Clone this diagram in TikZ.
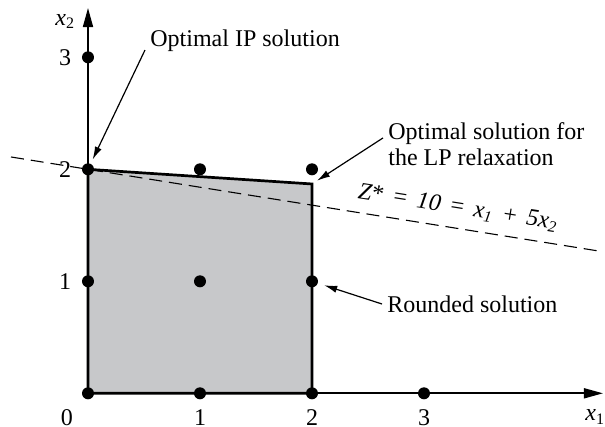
\documentclass[tikz,border=0pt]{standalone}
\usepackage{fontspec}
\setmainfont{Liberation Serif}
\usetikzlibrary{arrows.meta}
\definecolor{regiongray}{RGB}{199,200,202}
\newcommand\zsp{\hspace{0.42em}}
\begin{document}
\begin{tikzpicture}[x=56pt,y=56pt,
  lbl/.style={font=\fontsize{12}{13}\selectfont, inner sep=0pt},
  dot/.style={circle, fill=black, inner sep=0pt, minimum size=6pt},
  axis/.style={line width=0.85pt, -{Triangle[length=9.5pt,width=5pt]}},
  note/.style={line width=0.6pt, -{Latex[length=6.5pt,width=3.6pt]}},
  region/.style={fill=regiongray, draw=black, line width=1.35pt, line join=miter},
  objline/.style={dash pattern=on 6.5pt off 3.5pt, line width=0.55pt}]
\useasboundingbox (-0.7857,-0.2920) rectangle (4.6161,3.5116);
% coordinates
\coordinate (O) at (0,0);
\coordinate (xend) at (4.598,0);
\coordinate (yend) at (0,3.44);
\coordinate (c02) at (0,2);
\coordinate (c20) at (2,0);
\coordinate (lpv) at (2,1.869);
\coordinate (zl) at (-0.6875,2.11);
\coordinate (zr) at (4.571,1.2686);
% feasible region
\draw[region] (O) -- (c02) -- (lpv) -- (c20) -- cycle;
% axes
\draw[axis] (O) -- (xend);
\draw[axis] (O) -- (yend);
% objective line
\draw[objline] (zl) -- (zr);
% integer points
\node[dot] (p00) at (0,0) {};
\node[dot] (p10) at (1,0) {};
\node[dot] (p20) at (2,0) {};
\node[dot] (p30) at (3,0) {};
\node[dot] (p01) at (0,1) {};
\node[dot] (p11) at (1,1) {};
\node[dot] (p21) at (2,1) {};
\node[dot] (p02) at (0,2) {};
\node[dot] (p12) at (1,2) {};
\node[dot] (p22) at (2,2) {};
\node[dot] (p03) at (0,3) {};
% axis labels
\node[lbl, anchor=base west] (x2lab) at (-0.295,3.288) {\textit{x}\textsubscript{2}};
\node[lbl, anchor=base west] (x1lab) at (4.4375,-0.247) {\textit{x}\textsubscript{1}};
\node[lbl] (ty3) at (-0.205,3) {3};
\node[lbl] (ty2) at (-0.205,2) {2};
\node[lbl] (ty1) at (-0.205,1) {1};
\node[lbl] (tx0) at (-0.1875,-0.216) {0};
\node[lbl] (tx1) at (1,-0.216) {1};
\node[lbl] (tx2) at (2,-0.216) {2};
\node[lbl] (tx3) at (3,-0.216) {3};
% annotations
\node[lbl, anchor=base west] (ip) at (0.5536,3.092) {Optimal IP solution};
\node[lbl, anchor=base west] (lp1) at (2.6786,2.2705) {Optimal solution for};
\node[lbl, anchor=base west] (lp2) at (2.6786,2.0384) {the LP relaxation};
\node[lbl, anchor=base west] (rs) at (2.6696,0.7259) {Rounded solution};
\node[lbl, anchor=base west, rotate=-9] (zlab) at (2.4018,1.7437)
  {\textit{Z}*\zsp=\zsp\textit{10}\zsp=\zsp\textit{x}\textsubscript{\itshape 1}\zsp+\zsp\textit{5x}\textsubscript{\itshape 2}};
\coordinate (ipa) at (0.509,3.065);
\coordinate (lpa) at (2.634,2.280);
\coordinate (rsa) at (2.625,0.7973);
\draw[note, shorten >=2.2pt] (ipa) -- (p02);
\draw[note, shorten >=3pt] (lpa) -- (lpv);
\draw[note, shorten >=3.2pt] (rsa) -- (p21);
\end{tikzpicture}
\end{document}
